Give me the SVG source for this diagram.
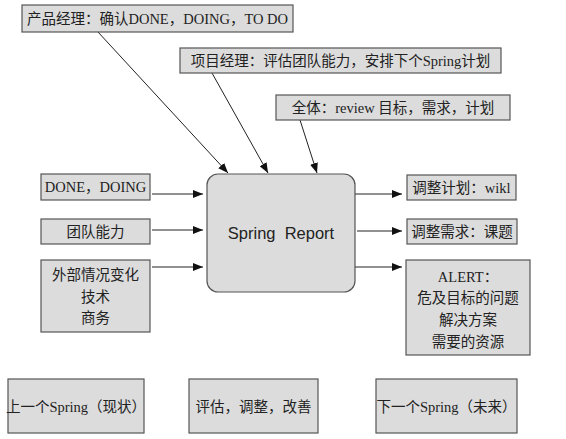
<svg xmlns="http://www.w3.org/2000/svg" width="566" height="439" viewBox="0 0 566 439">
<style>
.b{fill:#dcdcdc;stroke:#555;stroke-width:1.2}
.t{font-family:"Liberation Serif","Noto Sans CJK SC",serif;font-size:14.5px;fill:#222;text-anchor:middle}
.c{stroke:#222;stroke-width:1;fill:none;marker-end:url(#ah)}
.s{font-family:"Liberation Sans",Arial,sans-serif;font-size:16.5px;fill:#222;text-anchor:middle}
</style>
<defs>
<marker id="ah" viewBox="0 0 10 8" refX="10" refY="4" markerWidth="10" markerHeight="8" markerUnits="userSpaceOnUse" orient="auto">
<path d="M0,0 L10,4 L0,8 Z" fill="#111"/>
</marker>
</defs>
<rect width="566" height="439" fill="#fff"/>
<g id="connectors">
<line class="c" x1="98" y1="32" x2="228" y2="173"/>
<line class="c" x1="212" y1="73" x2="268" y2="173"/>
<line class="c" x1="300" y1="120" x2="317" y2="173"/>
<line class="c" x1="152" y1="194" x2="203" y2="194"/>
<line class="c" x1="152" y1="230" x2="203" y2="230"/>
<line class="c" x1="152" y1="267" x2="203" y2="267"/>
<line class="c" x1="355" y1="194" x2="402" y2="194"/>
<line class="c" x1="357" y1="231" x2="402" y2="231"/>
<line class="c" x1="355" y1="267" x2="402" y2="267"/>
</g>
<g id="pm"><rect class="b" x="22" y="5" width="271" height="27"/><text class="t" x="157.5" y="24">产品经理：确认DONE，DOING，TO DO</text></g>
<g id="proj"><rect class="b" x="180" y="48" width="321" height="25"/><text class="t" x="340.5" y="66">项目经理：评估团队能力，安排下个Spring计划</text></g>
<g id="all"><rect class="b" x="276" y="95" width="234" height="25"/><text class="t" x="393" y="113">全体：review 目标，需求，计划</text></g>
<g id="done"><rect class="b" x="41" y="174" width="109" height="26"/><text class="t" x="95.5" y="192">DONE，DOING</text></g>
<g id="team"><rect class="b" x="41" y="219" width="109" height="25"/><text class="t" x="95.5" y="237">团队能力</text></g>
<g id="ext"><rect class="b" x="41" y="260" width="109" height="72"/><text class="t" x="95.5" y="280">外部情况变化</text><text class="t" x="95.5" y="302">技术</text><text class="t" x="95.5" y="323">商务</text></g>
<g id="report"><rect class="b" x="207" y="174" width="148" height="118" rx="11"/><text class="s" x="281" y="239" xml:space="preserve">Spring  Report</text></g>
<g id="plan"><rect class="b" x="407" y="175" width="109" height="25"/><text class="t" x="461.5" y="193">调整计划：wikl</text></g>
<g id="req"><rect class="b" x="407" y="219" width="110" height="25"/><text class="t" x="462" y="237">调整需求：课题</text></g>
<g id="alert"><rect class="b" x="406" y="260" width="124" height="95"/><text class="t" x="468" y="282">ALERT：</text><text class="t" x="468" y="303">危及目标的问题</text><text class="t" x="468" y="325">解决方案</text><text class="t" x="468" y="347">需要的资源</text></g>
<g id="prev"><rect class="b" x="8" y="379" width="136" height="54"/><text class="t" x="76" y="412">上一个Spring（现状）</text></g>
<g id="eval"><rect class="b" x="189" y="379" width="129" height="54"/><text class="t" x="253.5" y="412">评估，调整，改善</text></g>
<g id="next"><rect class="b" x="376" y="379" width="141" height="54"/><text class="t" x="446.5" y="412">下一个Spring（未来）</text></g>
</svg>
